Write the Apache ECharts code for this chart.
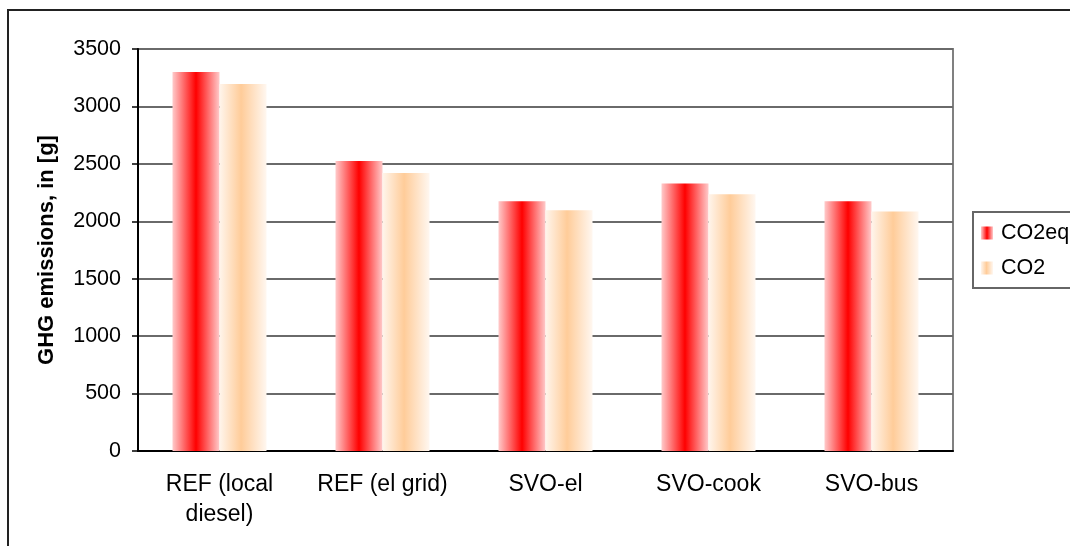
<!DOCTYPE html>
<html>
<head>
<meta charset="utf-8">
<script src="https://cdn.jsdelivr.net/npm/echarts@6/dist/echarts.min.js"></script>
<style>
  html, body { margin: 0; padding: 0; background: #fff; }
  #chart { width: 1070px; height: 546px; }
</style>
</head>
<body>
<div id="chart"></div>
<script>
// GHG emissions per scenario, grams
const categories = ['REF (local\ndiesel)', 'REF (el grid)', 'SVO-el', 'SVO-cook', 'SVO-bus'];
const co2eqValues = [3300, 2525, 2175, 2330, 2175];
const co2Values = [3195, 2420, 2095, 2235, 2085];
const seriesNames = ['CO2eq', 'CO2'];
const yTicks = { min: 0, max: 3500, interval: 500 };

const FONT = 'Liberation Sans, Arial, sans-serif';

// Horizontal shading across each bar, like a cylinder lit from the front
const redShade = new echarts.graphic.LinearGradient(0, 0, 1, 0, [
  { offset: 0, color: '#ffcaca' },
  { offset: 0.5, color: '#ff0000' },
  { offset: 1, color: '#ffcaca' }
]);
const peachShade = new echarts.graphic.LinearGradient(0, 0, 1, 0, [
  { offset: 0, color: '#fff5ec' },
  { offset: 0.46, color: '#ffcc99' },
  { offset: 1, color: '#fff7f0' }
]);

const chart = echarts.init(document.getElementById('chart'), null, { renderer: 'canvas' });

chart.setOption({
  backgroundColor: '#ffffff',
  animation: false,
  textStyle: { fontFamily: FONT },
  graphic: [{
    type: 'rect',
    shape: { x: 8, y: 10, width: 1200, height: 700 },
    style: { fill: 'none', stroke: '#222', lineWidth: 2 },
    silent: true,
    z: 100
  }],
  grid: {
    left: 138, right: 117, top: 49, bottom: 95,
    show: true,
    borderColor: '#808080',
    borderWidth: 2,
    backgroundColor: 'transparent'
  },
  legend: {
    orient: 'vertical',
    left: 973,
    top: 212,
    padding: [10, 40, 9, 8],
    itemGap: 13,
    itemWidth: 12,
    itemHeight: 13,
    icon: 'rect',
    borderColor: '#666',
    borderWidth: 2,
    textStyle: { fontFamily: FONT, fontSize: 21.5, color: '#000', padding: [0, 0, 0, 3] },
    data: seriesNames
  },
  xAxis: {
    type: 'category',
    data: categories,
    axisLine: { lineStyle: { color: '#000', width: 2 } },
    axisTick: { length: 7, lineStyle: { color: '#000', width: 1.5 } },
    axisLabel: {
      color: '#000',
      fontFamily: FONT,
      fontSize: 23,
      lineHeight: 30,
      margin: 19,
      interval: 0
    }
  },
  yAxis: {
    type: 'value',
    min: yTicks.min,
    max: yTicks.max,
    interval: yTicks.interval,
    name: 'GHG emissions, in [g]',
    nameLocation: 'middle',
    nameGap: 80,
    nameTextStyle: { fontFamily: FONT, fontSize: 22, fontWeight: 'bold', color: '#000' },
    axisLine: { show: true, lineStyle: { color: '#000', width: 2 } },
    axisTick: { show: true, length: 6, lineStyle: { color: '#000', width: 1.5 } },
    axisLabel: {
      color: '#000', fontFamily: FONT, fontSize: 21.5, margin: 17,
      formatter: (v) => String(v)
    },
    splitLine: { lineStyle: { color: '#6a6a6a', width: 2 } }
  },
  series: [
    {
      name: seriesNames[0],
      type: 'bar',
      data: co2eqValues,
      barWidth: 47,
      barGap: '0%',
      itemStyle: { color: redShade }
    },
    {
      name: seriesNames[1],
      type: 'bar',
      data: co2Values,
      barWidth: 47,
      barGap: '0%',
      itemStyle: { color: peachShade }
    }
  ]
});
</script>
</body>
</html>
